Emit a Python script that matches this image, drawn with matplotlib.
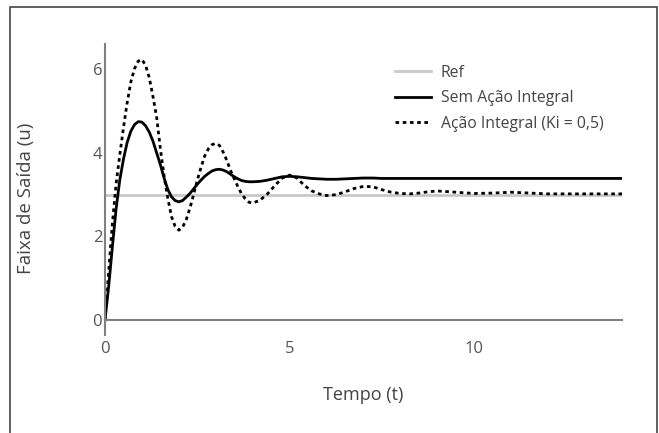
import matplotlib.pyplot as plt
from matplotlib.patches import Rectangle

plt.rcParams['font.family'] = ['Open Sans', 'DejaVu Sans']

t = [0.0, 0.1, 0.2, 0.3, 0.4, 0.5, 0.6, 0.7, 0.8, 0.9,
     1.0, 1.1, 1.2, 1.3, 1.4, 1.5, 1.6, 1.7, 1.8, 1.9,
     2.0, 2.1, 2.2, 2.3, 2.4, 2.5, 2.6, 2.7, 2.8, 2.9,
     3.0, 3.1, 3.2, 3.3, 3.4, 3.5, 3.6, 3.7, 3.8, 3.9,
     4.0, 4.2, 4.4, 4.6, 4.8, 5.0, 5.2, 5.4, 5.6, 5.8,
     6.0, 6.25, 6.5, 6.75, 7.0, 7.25, 7.5, 7.75, 8.0, 8.25,
     8.5, 8.75, 9.0, 9.5, 10.0, 10.5, 11.0, 11.5, 12.0, 13.0, 14.0]

sem_integral = [0.0, 0.80, 1.75, 2.65, 3.35, 3.85, 4.25, 4.52, 4.68, 4.75,
                4.74, 4.65, 4.50, 4.28, 4.00, 3.72, 3.40, 3.13, 2.95, 2.86,
                2.83, 2.86, 2.94, 3.03, 3.14, 3.25, 3.35, 3.44, 3.51, 3.57,
                3.60, 3.61, 3.59, 3.55, 3.49, 3.43, 3.38, 3.34, 3.32, 3.31,
                3.31, 3.32, 3.35, 3.39, 3.43, 3.44, 3.43, 3.41, 3.39, 3.38,
                3.37, 3.37, 3.38, 3.39, 3.40, 3.40, 3.39, 3.39, 3.39, 3.39,
                3.39, 3.39, 3.39, 3.39, 3.39, 3.39, 3.39, 3.39, 3.39, 3.39, 3.39]

com_integral = [0.0, 1.15, 2.30, 3.25, 3.95, 4.60, 5.20, 5.70, 6.02, 6.20,
                6.24, 6.10, 5.80, 5.35, 4.85, 4.10, 3.45, 2.92, 2.48, 2.24,
                2.15, 2.22, 2.40, 2.68, 3.00, 3.35, 3.65, 3.93, 4.10, 4.20,
                4.23, 4.18, 4.02, 3.82, 3.58, 3.38, 3.19, 3.02, 2.90, 2.82,
                2.80, 2.87, 3.02, 3.22, 3.40, 3.47, 3.40, 3.22, 3.09, 3.02,
                2.98, 3.00, 3.07, 3.15, 3.20, 3.19, 3.12, 3.06, 3.03, 3.02,
                3.04, 3.07, 3.09, 3.06, 3.03, 3.04, 3.06, 3.04, 3.02, 3.02, 3.02]

referencia = 3.0

fig = plt.figure(figsize=(6.59, 4.33), dpi=100)
ax = fig.add_axes([0.1593, 0.2263, 0.7846, 0.6721])

ax.plot([t[0], t[-1]], [referencia, referencia], color='#c8c8c8', lw=2, label='Ref')
ax.plot(t, sem_integral, color='black', lw=2, label='Sem Ação Integral')
ax.plot(t, com_integral, color='black', lw=2, linestyle=(0, (1.3, 1.3)),
        label='Ação Integral (Ki = 0,5)')

ax.set_xlim(0, 14)
ax.set_ylim(-0.36, 6.61)
ax.set_xticks([0, 5, 10])
ax.set_yticks([0, 2, 4, 6])

for s in ['top', 'right']:
    ax.spines[s].set_visible(False)
ax.spines['bottom'].set_position(('data', 0))
for s in ['left', 'bottom']:
    ax.spines[s].set_color('#808080')
    ax.spines[s].set_linewidth(1.5)

ax.tick_params(axis='both', length=0, labelsize=12, labelcolor='#555555')
ax.tick_params(axis='x', pad=15)
ax.tick_params(axis='y', pad=2)

ax.set_xlabel('Tempo (t)', fontsize=13, color='#444444')
ax.set_ylabel('Faixa de Saída (u)', fontsize=13.5, color='#444444')
ax.xaxis.set_label_coords(0.5, -0.175)
ax.yaxis.set_label_coords(-0.135, 0.47)

ax.legend(loc='upper left', bbox_to_anchor=(0.534, 0.977), frameon=False,
          fontsize=11.3, handlelength=2.3, handletextpad=0.6,
          labelspacing=0.6, labelcolor='#444444')

# moldura da figura
fig.add_artist(Rectangle((10 / 659, -0.1), 647 / 659, 1.1 - 7 / 433,
                         transform=fig.transFigure, fill=False,
                         edgecolor='#444444', lw=1.2, clip_on=False))

fig.savefig('out.png', dpi=100)
